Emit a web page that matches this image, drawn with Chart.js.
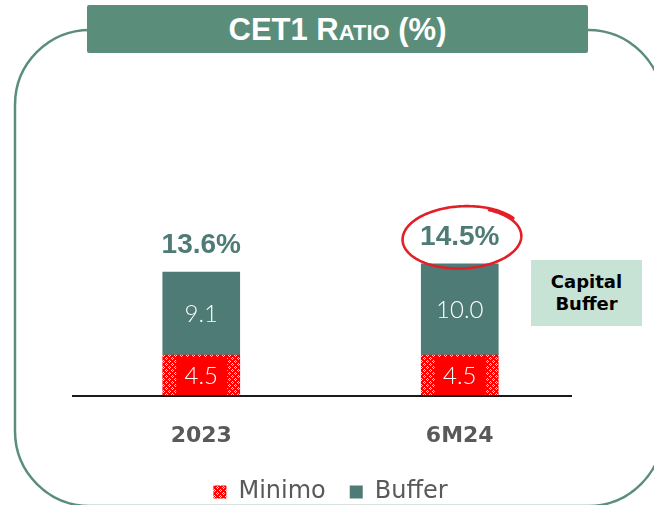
<!DOCTYPE html>
<html>
<head>
<meta charset="utf-8">
<script src="https://cdn.jsdelivr.net/npm/chart.js@4.4.1/dist/chart.umd.min.js"></script>
<style>
  html, body { margin: 0; padding: 0; width: 654px; height: 505px; overflow: hidden; background: #fff; }
  #frame { position: absolute; left: 0; top: 0; }
  #title {
    position: absolute; left: 87px; top: 5px; width: 501px; height: 48px;
    background: #5b8e7a; color: #fff; border-radius: 2px;
    font: bold 31px "Liberation Sans", Arial, sans-serif; font-variant: small-caps;
    text-align: center; line-height: 50px;
  }
  #wrap { position: absolute; left: 0; top: 0; width: 654px; height: 505px; }
  #capbuf {
    position: absolute; left: 531px; top: 260px; width: 111px; height: 66px;
    background: #c6e3d5; color: #000;
    font: bold 18px "DejaVu Sans", sans-serif; line-height: 22px;
    display: flex; align-items: center; justify-content: center; text-align: center;
  }
</style>
</head>
<body>
<svg id="frame" width="654" height="505">
  <rect x="15" y="30" width="648" height="476" rx="75" ry="75" fill="none" stroke="#5b8e7a" stroke-width="2.5"/>
</svg>
<div id="title">CET1 Ratio (%)</div>
<div id="wrap"><canvas id="chart"></canvas></div>
<div id="capbuf">Capital<br>Buffer</div>
<script>
const categories = ["2023", "6M24"];
const minimo = [4.5, 4.5];
const buffer = [9.1, 10.0];
const totals = [13.6, 14.5];
const circled = "6M24";

const TEAL = "#4f7b76";
const RED = "#ff0000";

// red fill with a light diamond lattice for the regulatory minimum
function makePattern() {
  const c = document.createElement("canvas");
  c.width = 6; c.height = 6;
  const g = c.getContext("2d");
  g.fillStyle = RED;
  g.fillRect(0, 0, 6, 6);
  g.fillStyle = "#ffd0d0";
  [[1,0],[0,1],[2,1],[1,2],[4,3],[3,4],[5,4],[4,5]].forEach(p => g.fillRect(p[0], p[1], 1, 1));
  return g.createPattern(c, "repeat");
}
const minPattern = makePattern();

const barLabels = {
  id: "barLabels",
  afterDatasetsDraw(chart) {
    const ctx = chart.ctx;
    const y = chart.scales.y;
    ctx.save();
    ctx.textAlign = "center";

    // values inside the segments
    chart.data.datasets.forEach((ds, di) => {
      chart.getDatasetMeta(di).data.forEach((el, i) => {
        const mid = (el.y + el.base) / 2;
        if (di === 0) {
          ctx.fillStyle = RED;
          ctx.fillRect(el.x - 25, el.y + 2, 51, el.base - el.y - 2);
        }
        ctx.fillStyle = "#fff";
        ctx.textBaseline = "middle";
        ctx.font = "300 24px Lato, 'DejaVu Sans', sans-serif";
        ctx.fillText(ds.data[i].toFixed(1), el.x, mid + 1);
      });
    });

    // totals above each stack
    const top = chart.getDatasetMeta(1).data;
    ctx.textBaseline = "alphabetic";
    ctx.font = "bold 28px 'Liberation Sans', Arial, sans-serif";
    ctx.fillStyle = TEAL;
    totals.forEach((t, i) => {
      ctx.fillText(t.toFixed(1) + "%", top[i].x, y.getPixelForValue(t) - 19);
    });

    // hand-drawn ring around the latest figure
    const k = categories.indexOf(circled);
    const cx = top[k].x + 3, cy = y.getPixelForValue(totals[k]) - 26;
    ctx.strokeStyle = "#e41e26";
    ctx.lineWidth = 2.6;
    ctx.lineCap = "round";
    ctx.beginPath();
    const a0 = -1.1, a1 = a0 + Math.PI * 2 + 0.5;
    for (let a = a0; a <= a1; a += 0.03) {
      const s = 1 + 0.06 * (a - a0) / (a1 - a0);
      const px = cx + 58 * s * Math.cos(a);
      const py = cy + 30 * s * Math.sin(a) - 2 * Math.cos(a);
      if (a === a0) ctx.moveTo(px, py); else ctx.lineTo(px, py);
    }
    ctx.stroke();

    // baseline under the bars
    const y0 = y.getPixelForValue(0);
    ctx.strokeStyle = "#1a1a1a";
    ctx.lineWidth = 2;
    ctx.lineCap = "butt";
    ctx.beginPath();
    ctx.moveTo(chart.chartArea.left, y0);
    ctx.lineTo(chart.chartArea.right - 17, y0);
    ctx.stroke();
    ctx.restore();
  }
};

new Chart(document.getElementById("chart"), {
  type: "bar",
  data: {
    labels: categories,
    datasets: [
      { label: "Minimo", data: minimo, backgroundColor: minPattern, barThickness: 77 },
      { label: "Buffer", data: buffer, backgroundColor: TEAL, barThickness: 77 }
    ]
  },
  options: {
    responsive: true,
    maintainAspectRatio: false,
    animation: false,
    layout: { padding: { top: 213.6, left: 72, right: 65, bottom: -9 } },
    scales: {
      x: {
        stacked: true,
        grid: { display: false, drawTicks: false },
        border: { display: false },
        ticks: {
          padding: 27,
          color: "#595959",
          font: { family: "DejaVu Sans", size: 22, weight: "bold" }
        },
        afterFit: s => { s.height = 60; }
      },
      y: {
        stacked: true,
        display: false,
        min: 0,
        max: 20
      }
    },
    plugins: {
      legend: {
        position: "bottom",
        labels: {
          boxWidth: 13,
          boxHeight: 13,
          padding: 24,
          color: "#595959",
          font: { family: "DejaVu Sans", size: 24 }
        }
      },
      tooltip: { enabled: false }
    }
  },
  plugins: [barLabels]
});
</script>
</body>
</html>
